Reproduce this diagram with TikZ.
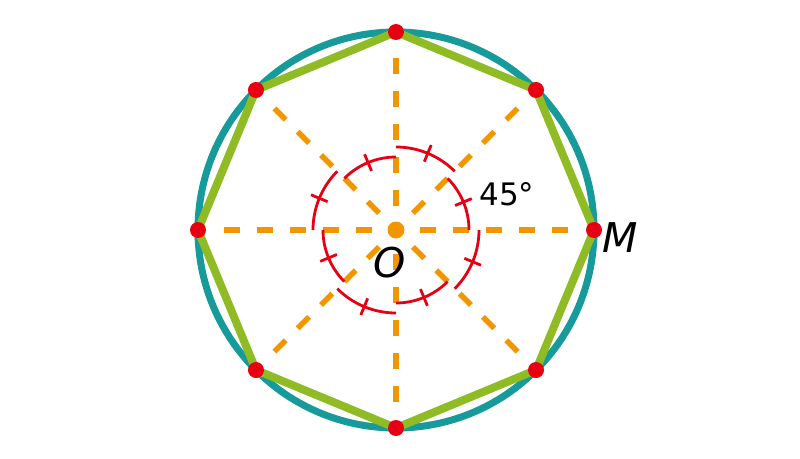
\documentclass[tikz,border=0pt]{standalone}
\usepackage{fontspec}
\setmainfont{DejaVu Sans}
\definecolor{rimteal}{RGB}{22,154,154}
\definecolor{sidegreen}{RGB}{143,188,36}
\definecolor{rayorange}{RGB}{242,150,0}
\definecolor{markred}{RGB}{230,0,18}
\begin{document}
\begin{tikzpicture}[x=1pt, y=1pt,
  rim/.style={draw=rimteal, line width=7pt},
  side/.style={draw=sidegreen, line width=8pt, line join=round},
  ray/.style={draw=rayorange, line width=5.5pt, dash pattern=on 16pt off 17pt, shorten <=24pt, shorten >=25pt},
  angarc/.style={draw=markred, line width=2.8pt},
  dot/.style={circle, fill=markred, inner sep=0pt, minimum size=16pt},
  hub/.style={circle, fill=rayorange, inner sep=0pt, minimum size=17pt}]
\useasboundingbox (-396,-228) rectangle (404,230);

\coordinate (o) at (0,0);
\coordinate (a) at (0:198pt);
\coordinate (b) at (45:198pt);
\coordinate (c) at (90:198pt);
\coordinate (d) at (135:198pt);
\coordinate (e) at (180:198pt);
\coordinate (f) at (225:198pt);
\coordinate (g) at (270:198pt);
\coordinate (h) at (315:198pt);

\draw[rim] (o) circle (198pt);
\draw[side] (a) -- (b) -- (c) -- (d) -- (e) -- (f) -- (g) -- (h) -- cycle;

\draw[ray] (o) -- (a);
\draw[ray] (o) -- (b);
\draw[ray] (o) -- (c);
\draw[ray] (o) -- (d);
\draw[ray] (o) -- (e);
\draw[ray] (o) -- (f);
\draw[ray] (o) -- (g);
\draw[ray] (o) -- (h);

\draw[angarc] (0:73pt) arc[start angle=0, end angle=45, radius=73pt];
\draw[angarc] (45:83pt) arc[start angle=45, end angle=90, radius=83pt];
\draw[angarc] (90:73pt) arc[start angle=90, end angle=135, radius=73pt];
\draw[angarc] (135:83pt) arc[start angle=135, end angle=180, radius=83pt];
\draw[angarc] (180:73pt) arc[start angle=180, end angle=225, radius=73pt];
\draw[angarc] (225:83pt) arc[start angle=225, end angle=270, radius=83pt];
\draw[angarc] (270:73pt) arc[start angle=270, end angle=315, radius=73pt];
\draw[angarc] (315:83pt) arc[start angle=315, end angle=360, radius=83pt];

\draw[angarc] (22.5:64pt) -- (22.5:82pt);
\draw[angarc] (67.5:74pt) -- (67.5:92pt);
\draw[angarc] (112.5:64pt) -- (112.5:82pt);
\draw[angarc] (157.5:74pt) -- (157.5:92pt);
\draw[angarc] (202.5:64pt) -- (202.5:82pt);
\draw[angarc] (247.5:74pt) -- (247.5:92pt);
\draw[angarc] (292.5:64pt) -- (292.5:82pt);
\draw[angarc] (337.5:74pt) -- (337.5:92pt);

\node[hub] (oc) at (o) {};
\node[dot] (da) at (a) {};
\node[dot] (db) at (b) {};
\node[dot] (dc) at (c) {};
\node[dot] (dd) at (d) {};
\node[dot] (de) at (e) {};
\node[dot] (df) at (f) {};
\node[dot] (dg) at (g) {};
\node[dot] (dh) at (h) {};

\node[font=\fontsize{41}{41}\selectfont\itshape] (lo) at (-6,-33) {O};
\node[font=\fontsize{41}{41}\selectfont\itshape] (lm) at (224,-8) {M};
\node[font=\fontsize{31}{31}\selectfont] (la) at (111,36) {45°};
\end{tikzpicture}
\end{document}
